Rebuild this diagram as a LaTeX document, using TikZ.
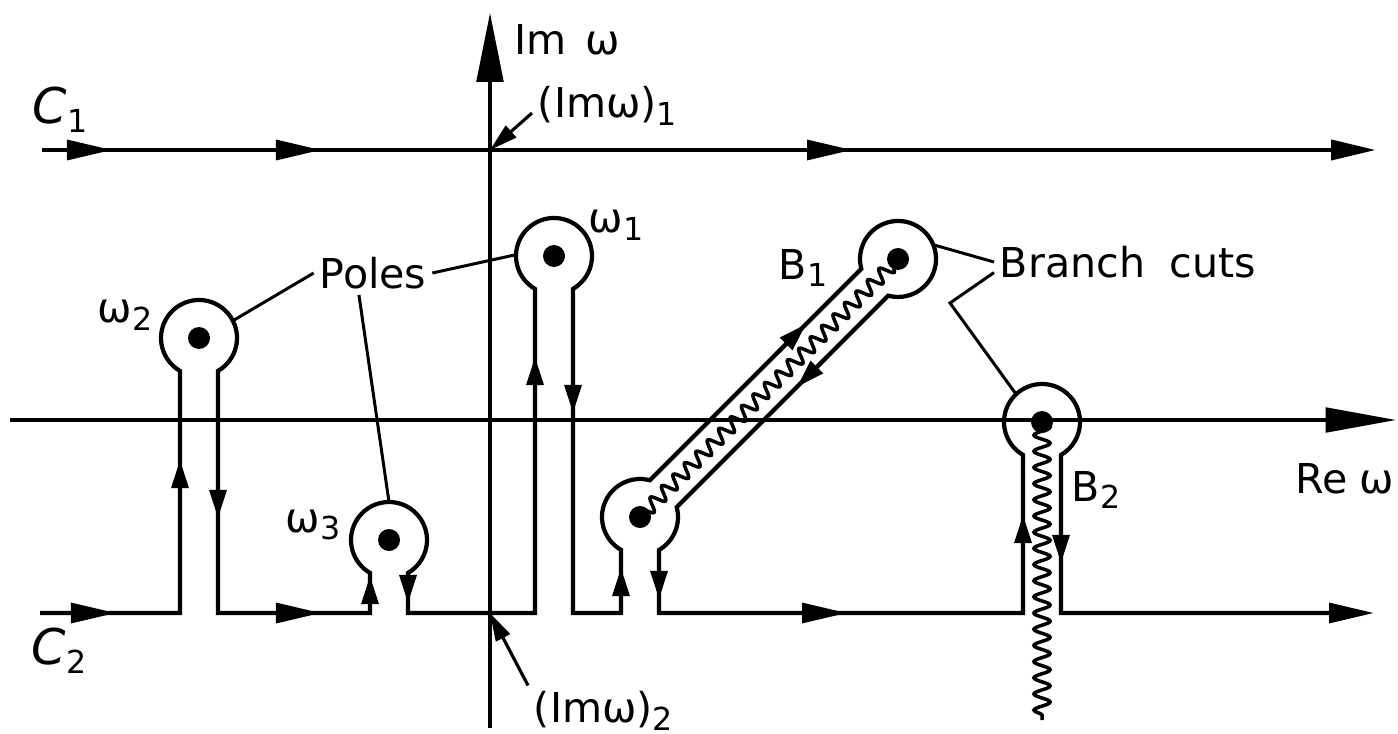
\documentclass[tikz,border=0pt]{standalone}
\usepackage{fontspec}
\setmainfont{DejaVu Sans}
\usetikzlibrary{arrows.meta,decorations.pathmorphing,calc}

\newcommand{\lowidx}[1]{\raisebox{-0.35ex}{\fontsize{9}{9}\selectfont #1}}

\begin{document}
\begin{tikzpicture}[
  x=0.01cm, y=0.01cm,
  txt/.style={font=\fontsize{11.7}{14}\selectfont, inner sep=1.5pt},
  axis/.style={line width=0.9pt},
  contour/.style={line width=1.2pt, line join=miter},
  flow/.style={line width=1.2pt, -{Triangle[length=12.8pt,width=5.6pt]}},
  stemflow/.style={line width=1.1pt, -{Triangle[length=8pt,width=4.8pt]}},
  leader/.style={line width=0.85pt},
  pointer/.style={line width=0.9pt, -{Triangle[length=8pt,width=4.4pt]}},
  cutline/.style={line width=1pt, decorate,
    decoration={snake, amplitude=#1, segment length=4.6pt}},
  cutline/.default=2pt
]
  \useasboundingbox (0,0) rectangle (1398,733);

  % poles and branch points
  \coordinate (w1) at (554,477);
  \coordinate (w2) at (199,395);
  \coordinate (w3) at (389,193);
  \coordinate (b1lo) at (640,216);
  \coordinate (b1up) at (898,474);
  \coordinate (b2) at (1042,311);
  \coordinate (x1) at (490,583);
  \coordinate (x2) at (490,120);
  \coordinate (bend) at (950,430);

  % axes
  \draw[axis, -{Triangle[length=19.6pt,width=7.6pt]}] (490,5) -- (490,720);
  \draw[axis, -{Triangle[length=20pt,width=7pt]}] (10,313) -- (1396,313);

  % contour C1
  \draw[line width=1.4pt, -{Triangle[length=12.8pt,width=5.6pt]}] (42,583) -- (1376,583);
  \foreach \x in {112,321,852}
    \draw[flow] (\x-60,583) -- (\x,583);

  % branch cuts
  \draw[cutline=1.9pt] (b1lo) -- (b1up);
  \draw[cutline=2.3pt] (b2) -- (1042,13);

  % contour C2 with its keyholes
  \draw[contour, -{Triangle[length=12.8pt,width=5.6pt]}]
    (40,120) -- (180,120) -- (180,362.1)
    arc[start angle=240, end angle=-60, radius=38] -- (218,120)
    -- (370,120) -- (370,160.1)
    arc[start angle=240, end angle=-60, radius=38] -- (408,120)
    -- (535,120) -- (535,444.1)
    arc[start angle=240, end angle=-60, radius=38] -- (573,120)
    -- (621,120) -- (621,183.1)
    arc[start angle=240, end angle=75, radius=38] -- (861.3,464.2)
    arc[start angle=195, end angle=-105, radius=38] -- (676.7,225.8)
    arc[start angle=15, end angle=-60, radius=38] -- (659,120)
    -- (1023,120) -- (1023,278.1)
    arc[start angle=240, end angle=-60, radius=38] -- (1061,120)
    -- (1374,120);
  \foreach \x in {116,321,847}
    \draw[flow] (\x-60,120) -- (\x,120);
  % up and down the stems
  \foreach \x/\y in {180/273, 370/157, 535/376, 621/165, 1023/218}
    \draw[stemflow] (\x,\y-30) -- (\x,\y);
  \foreach \x/\y in {218/215, 408/130, 573/320, 659/134, 1061/170}
    \draw[stemflow] (\x,\y+30) -- (\x,\y);
  \draw[stemflow] (776,378.9) -- (806,408.9);
  \draw[stemflow] (827,376.1) -- (797,346.1);

  \foreach \p in {w1,w2,w3,b1lo,b1up,b2}
    \fill (\p) circle[radius=11];

  % labels
  \node[txt] (imw) at (567,693) {Im\hspace{0.45em}ω};
  \node[txt, anchor=west] (im1) at (532,627) {(Imω)\lowidx{1}};
  \node[txt, anchor=west] (im2) at (528,22) {(Imω)\lowidx{2}};
  \node[txt] (c1) at (60,623) {\fontsize{14}{14}\selectfont\textit{C}\lowidx{1}};
  \node[txt] (c2) at (59,82) {\fontsize{14}{14}\selectfont\textit{C}\lowidx{2}};
  \node[txt] (w1lab) at (616,508) {ω\lowidx{1}};
  \node[txt] (w2lab) at (125,418) {ω\lowidx{2}};
  \node[txt] (w3lab) at (313,208) {ω\lowidx{3}};
  \node[txt] (poles) at (373,460) {Poles};
  \node[txt] (b1lab) at (803,465) {B\lowidx{1}};
  \node[txt] (cuts) at (1128,471) {Branch\hspace{0.6em}cuts};
  \node[txt] (b2lab) at (1096,243) {B\lowidx{2}};
  \node[txt] (rew) at (1345,254) {Re\hspace{0.3em}ω};

  % leaders
  \draw[pointer] ([yshift=-2pt]im1.west) -- (x1);
  \draw[pointer] (im2.north west) -- (x2);
  \draw[leader] (poles.east) -- ($(w1)+(178:38)$);
  \draw[leader] (poles.west) -- ($(w2)+(27:38)$);
  \draw[leader] ([xshift=-4pt]poles.south) -- ($(w3)+(90:38)$);
  \draw[leader] (cuts.west) -- ($(b1up)+(22:38)$);
  \draw[leader] ([yshift=-3pt]cuts.west) -- (bend) -- ($(b2)+(133:38)$);
\end{tikzpicture}
\end{document}
